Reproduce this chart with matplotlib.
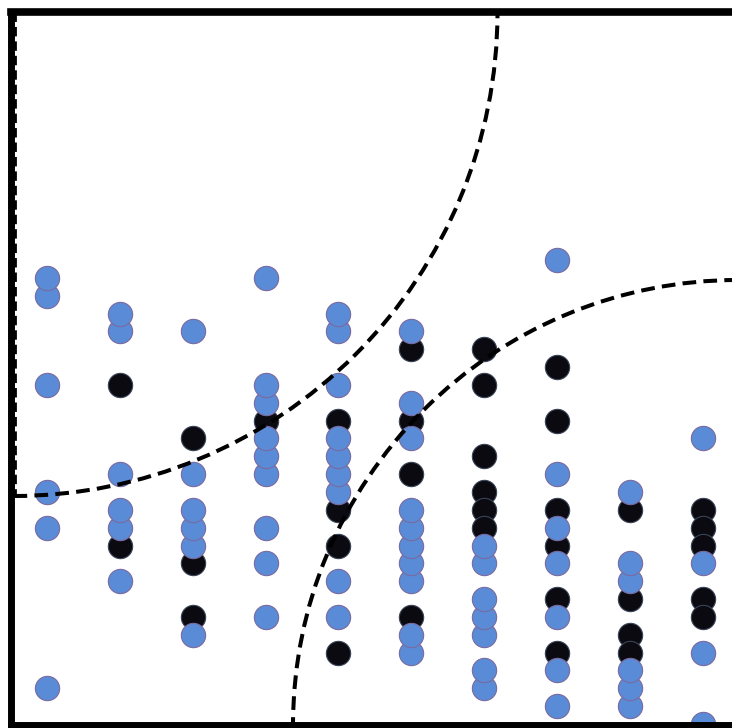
import numpy as np
import matplotlib
matplotlib.use("Agg")
import matplotlib.pyplot as plt
from matplotlib.patches import Arc

# columns 1..10, y = level of each dot
blue_pts = {
    1: [25, 24, 19, 13, 11, 2],
    2: [23, 22, 14, 12, 11, 8],
    3: [22, 14, 12, 11, 10, 5],
    4: [25, 19, 18, 16, 15, 14, 11, 9, 6],
    5: [23, 22, 19, 16, 15, 14, 13, 8, 6],
    6: [22, 18, 16, 12, 11, 10, 9, 8, 5, 4],
    7: [10, 9, 7, 6, 5, 3, 2],
    8: [26, 14, 11, 9, 6, 3, 1],
    9: [13, 9, 8, 3, 2, 1],
    10: [16, 9, 4, 0],
}
black_pts = {
    2: [19, 10],
    3: [16, 9, 6],
    4: [17],
    5: [17, 12, 10, 4],
    6: [21, 17, 14, 6],
    7: [21, 19, 15, 13, 12, 11],
    8: [20, 17, 12, 10, 7, 4],
    9: [12, 7, 5, 4],
    10: [12, 11, 10, 7, 6],
}

BLUE = "#5a8bd6"
BLUE_EDGE = "#7a6aa0"
BLACK = "#0a0a10"
BLACK_EDGE = "#3a4458"

AX_W = 721.5  # axes size in pixels
AX_H = 713.0

fig = plt.figure(figsize=(7.32, 7.28), dpi=100)
ax = fig.add_axes([10.5 / 732, 3 / 728, AX_W / 732, AX_H / 728])

# black first (lower dots on top), then blue (upper dots on top)
for col, levels in black_pts.items():
    ys = sorted(levels, reverse=True)
    ax.plot([col] * len(ys), ys, "o", ls="none", ms=17.5, mfc=BLACK,
            mec=BLACK_EDGE, mew=0.8, zorder=2)
for col, levels in blue_pts.items():
    ys = sorted(levels)
    ax.plot([col] * len(ys), ys, "o", ls="none", ms=17.5, mfc=BLUE,
            mec=BLUE_EDGE, mew=0.8, zorder=3)

ax.set_xlim(0.5, 10.4)
ax.set_ylim(-0.06, 39.9)

# dashed quarter circles (axes fraction)
dash = (0, (3.4, 1.8))
r1 = 484
a1 = Arc((3 / AX_W, 1.0), 2 * r1 / AX_W, 2 * r1 / AX_H, theta1=270, theta2=360,
         ec="black", lw=2.9, ls=dash, transform=ax.transAxes, zorder=4)
ax.add_patch(a1)
ax.plot([4 / AX_W, 4 / AX_W], [1.0, 1.0 - r1 / AX_H], color="black", lw=2.0,
        ls=dash, transform=ax.transAxes, zorder=4)

r2 = 445
a2 = Arc((1.0 + 6 / AX_W, 0.0), 2 * r2 / AX_W, 2 * r2 / AX_H, theta1=90,
         theta2=180, ec="black", lw=2.9, ls=dash, transform=ax.transAxes,
         zorder=4)
ax.add_patch(a2)

for side in ["left", "top", "bottom"]:
    ax.spines[side].set_linewidth(5)
    ax.spines[side].set_color("black")
    ax.spines[side].set_zorder(5)
ax.spines["top"].set_linewidth(5.5)
ax.spines["right"].set_visible(False)
ax.set_xticks([])
ax.set_yticks([])

fig.savefig("out.png", dpi=100)
